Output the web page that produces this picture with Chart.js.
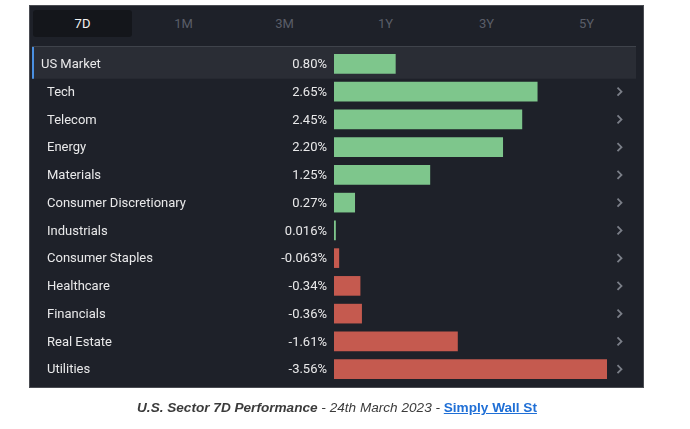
<!DOCTYPE html>
<html>
<head>
<meta charset="utf-8">
<script src="https://cdn.jsdelivr.net/npm/chart.js@4/dist/chart.umd.min.js"></script>
<style>
  html, body { margin: 0; padding: 0; background: #ffffff; width: 690px; height: 429px; overflow: hidden; }
  #panel { position: absolute; left: 29px; top: 5px; width: 615px; height: 383px; background: #1e2129; border: 1px solid #4a4c52; box-sizing: border-box; }
  .tab { position: absolute; top: 10px; height: 27px; width: 99px; line-height: 27px; text-align: center; font-family: Roboto, sans-serif; font-size: 13px; color: #5a5e68; }
  .tab.active { background: #14161b; color: #f2f2f2; border-radius: 3px; }
  #caption { position: absolute; left: 0; width: 674px; top: 400px; text-align: center; font-family: "Liberation Sans", Arial, sans-serif; font-size: 13.6px; font-style: italic; color: #3b3b3b; }
  #caption b { font-weight: bold; }
  #caption a { color: #1f6fd6; font-weight: bold; font-style: normal; text-decoration: underline; }
  #wrap { position: absolute; left: 0; top: 0; width: 690px; height: 429px; }
</style>
</head>
<body>
<div id="panel"></div>
<div class="tab active" style="left:33px">7D</div>
<div class="tab" style="left:134px">1M</div>
<div class="tab" style="left:235px">3M</div>
<div class="tab" style="left:336px">1Y</div>
<div class="tab" style="left:437px">3Y</div>
<div class="tab" style="left:537px">5Y</div>
<div id="wrap"><canvas id="c" width="690" height="429"></canvas></div>
<div id="caption"><b>U.S. Sector 7D Performance</b> - 24th March 2023 - <a>Simply Wall St</a></div>
<script>
const categories = ["US Market", "Tech", "Telecom", "Energy", "Materials", "Consumer Discretionary", "Industrials", "Consumer Staples", "Healthcare", "Financials", "Real Estate", "Utilities"];
const returns = [0.80, 2.65, 2.45, 2.20, 1.25, 0.27, 0.016, -0.063, -0.34, -0.36, -1.61, -3.56];
const valueLabels = ["0.80%", "2.65%", "2.45%", "2.20%", "1.25%", "0.27%", "0.016%", "-0.063%", "-0.34%", "-0.36%", "-1.61%", "-3.56%"];

const GREEN = "#7ec68c";
const RED = "#c55a4f";

const rowPlugin = {
  id: "rows",
  beforeDatasetsDraw(chart) {
    const ctx = chart.ctx;
    const y = chart.scales.y;
    const pitch = y.getPixelForValue(1) - y.getPixelForValue(0);
    const y0 = y.getPixelForValue(0);
    ctx.save();
    ctx.fillStyle = "#2a2d35";
    ctx.fillRect(32, y0 - pitch / 2 - 3, 604, pitch + 4);
    ctx.fillStyle = "#3f434b";
    ctx.fillRect(32, y0 - pitch / 2 - 4, 604, 1);
    ctx.fillStyle = "#4a8fe0";
    ctx.fillRect(32, y0 - pitch / 2 - 3, 2, pitch + 4);
    ctx.restore();
  },
  afterDatasetsDraw(chart) {
    const ctx = chart.ctx;
    const y = chart.scales.y;
    ctx.save();
    ctx.font = "13px Roboto, sans-serif";
    ctx.textBaseline = "middle";
    categories.forEach((name, i) => {
      const py = y.getPixelForValue(i);
      ctx.fillStyle = "#e9e9ea";
      ctx.textAlign = "left";
      ctx.fillText(name, i === 0 ? 41 : 47, py + 1);
      ctx.textAlign = "right";
      ctx.fillText(valueLabels[i], 327, py + 1);
      if (i > 0) {
        ctx.strokeStyle = "#7b7f88";
        ctx.lineWidth = 1.8;
        ctx.beginPath();
        ctx.moveTo(617.5, py - 4);
        ctx.lineTo(621.5, py);
        ctx.lineTo(617.5, py + 4);
        ctx.stroke();
      }
    });
    ctx.restore();
  }
};

new Chart(document.getElementById("c"), {
  type: "bar",
  data: {
    labels: categories,
    datasets: [{
      data: returns.map(v => Math.abs(v)),
      backgroundColor: returns.map(v => v >= 0 ? GREEN : RED),
      borderWidth: 0,
      barThickness: 19,
      minBarLength: 1.5
    }]
  },
  options: {
    indexAxis: "y",
    responsive: false,
    animation: false,
    events: [],
    layout: { padding: { left: 334, right: 83, top: 50, bottom: 46 } },
    plugins: { legend: { display: false }, tooltip: { enabled: false } },
    scales: {
      x: { display: false, min: 0, max: Math.max(...returns.map(v => Math.abs(v))) },
      y: { display: false, offset: true, grid: { display: false } }
    }
  },
  plugins: [rowPlugin]
});
</script>
</body>
</html>
